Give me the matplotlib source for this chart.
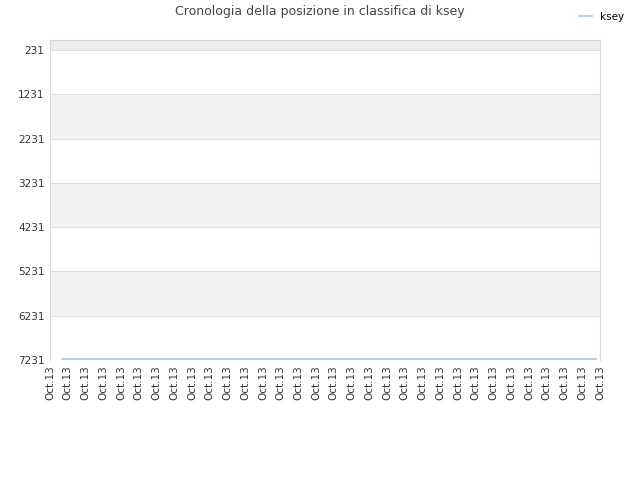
import matplotlib.pyplot as plt

# posizione in classifica (asse y invertito)
x_days = [0.65, 30.8]
ranks = [7212, 7212]
tick_labels = ["Oct.13"] * 32
y_ticks = [231, 1231, 2231, 3231, 4231, 5231, 6231, 7231]

fig = plt.figure(figsize=(6.4, 4.8), dpi=100)
ax = fig.add_axes([50 / 640, 120 / 480, 550 / 640, 320 / 480])

ax.set_ylim(7231, 1)
ax.set_xlim(0, len(tick_labels) - 1)

# bande alternate
ax.axhspan(1, y_ticks[0], color="#eeeeee", lw=0, zorder=0)
for i in range(len(y_ticks) - 1):
    if i % 2 == 1:
        ax.axhspan(y_ticks[i], y_ticks[i + 1], color="#f2f2f2", lw=0, zorder=0)
for y in y_ticks:
    ax.axhline(y, color="#e0e0e0", lw=0.8, zorder=1)

ax.plot(x_days, ranks, color="#a8c8e8", lw=1.2, label="ksey", zorder=3)

ax.set_yticks(y_ticks)
ax.set_yticklabels([str(v) for v in y_ticks], fontsize=7.5, color="#333333")
ax.set_xticks(range(len(tick_labels)))
ax.set_xticklabels(tick_labels, rotation=90, fontsize=7.5, color="#333333")
ax.tick_params(length=0, pad=4)

for s in ["left", "right", "top"]:
    ax.spines[s].set_color("#d8d8d8")
ax.spines["bottom"].set_visible(False)

fig.text(0.5, 1 - 12 / 480, "Cronologia della posizione in classifica di ksey",
         ha="center", va="center", fontsize=9, color="#444444")
fig.legend(loc="upper right", bbox_to_anchor=(0.99, 0.995), frameon=False,
           fontsize=7.5, handlelength=1.2)

fig.savefig("out.png", dpi=100)
